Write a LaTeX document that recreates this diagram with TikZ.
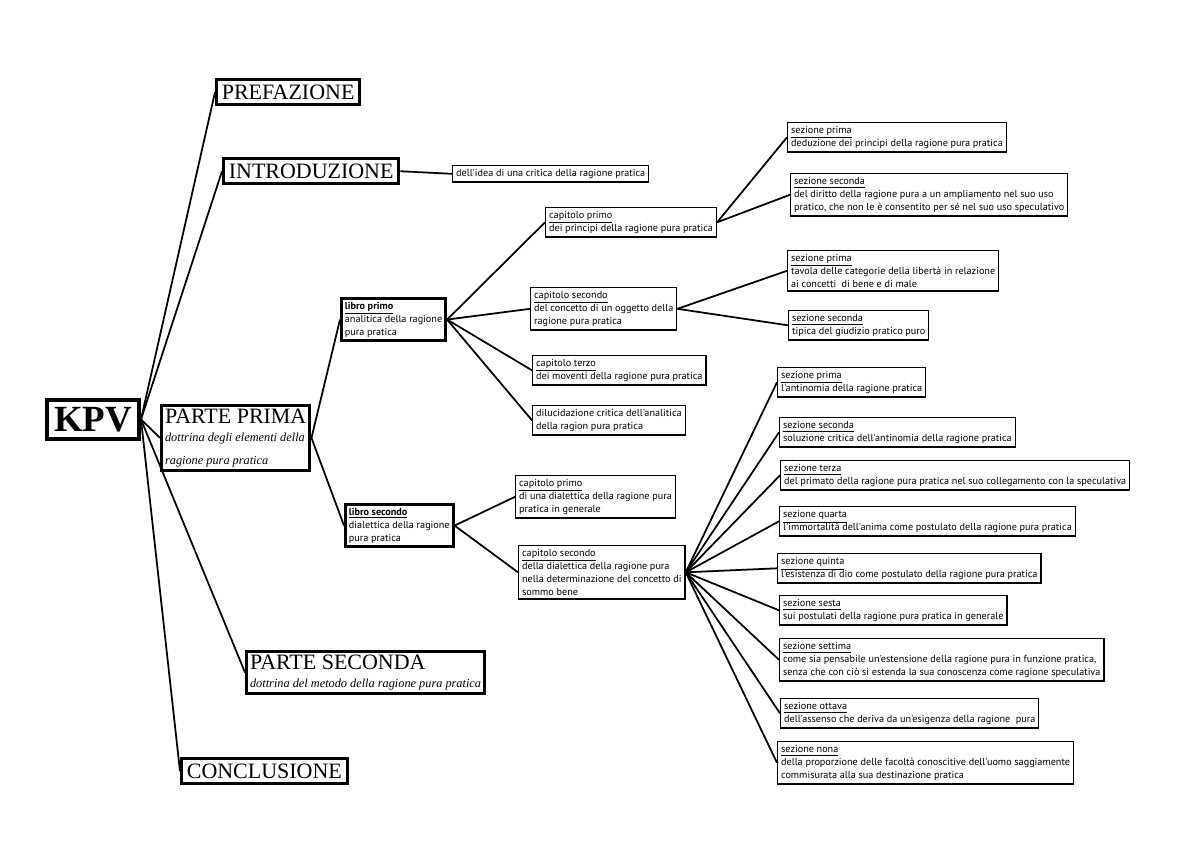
\documentclass[tikz,border=0pt]{standalone}
\usepackage{fontspec}
\setmainfont{Liberation Serif}
\newfontfamily\boxfont{PT Sans}
\usetikzlibrary{positioning}

\tikzset{
  head/.style={draw, line width=1.8pt, anchor=north west, inner sep=3pt, align=left,
    font=\fontsize{12.5}{13}\selectfont},
  libro/.style={draw, line width=1.6pt, anchor=north west, inner sep=2pt, align=left,
    font=\boxfont\fontsize{5.8}{7.4}\selectfont},
  sbox/.style={draw, line width=0.7pt, anchor=north west, inner sep=2pt, align=left,
    font=\boxfont\fontsize{5.8}{7.4}\selectfont},
  link/.style={line width=1pt},
}
\newcommand{\tit}[1]{\underline{#1}}
\newcommand{\subt}{\itshape\fontsize{7}{8.6}\selectfont}

\begin{document}
\begin{tikzpicture}[x=0.02cm,y=-0.02cm]
        \useasboundingbox (0,0) rectangle (1200,849);
        % level 0 and 1
        \node[draw, line width=2.3pt, anchor=north west, inner sep=4pt,
          font=\bfseries\fontsize{21}{22}\selectfont] at (45,398) (kpv) {KPV};
        \node[head] at (215,78) (pref) {PREFAZIONE};
        \node[head] at (222,157) (intro) {INTRODUZIONE};
        \node[head, inner sep=2pt] at (160,404) (pp) {PARTE PRIMA\\[-3pt]
          \subt dottrina degli elementi della\\\subt ragione pura pratica};
        \node[head, inner sep=2pt] at (245,650) (ps) {PARTE SECONDA\\[-3pt]
          \subt dottrina del metodo della ragione pura pratica};
        \node[head] at (180,757) (concl) {CONCLUSIONE};

        \node[sbox] at (452,165) (idea) {dell'idea di una critica della ragione pratica};

        % parte prima
        \node[libro] at (340,297) (lp) {\textbf{\tit{libro primo}}\\analitica della ragione\\pura pratica};
        \node[libro] at (344,503) (ls) {\textbf{\tit{libro secondo}}\\dialettica della ragione\\pura pratica};

        \node[sbox] at (545,207) (lpc1) {\tit{capitolo primo}\\dei principi della ragione pura pratica};
        \node[sbox] at (530,287) (lpc2) {\tit{capitolo secondo}\\del concetto di un oggetto della\\ragione pura pratica};
        \node[sbox] at (532,355) (lpc3) {\tit{capitolo terzo}\\dei moventi della ragione pura pratica};
        \node[sbox] at (532,405) (dil) {dilucidazione critica dell'analitica\\della ragion pura pratica};

        \node[sbox] at (787,122) (c1s1) {\tit{sezione prima}\\deduzione dei principi della ragione pura pratica};
        \node[sbox] at (790,173) (c1s2) {\tit{sezione seconda}\\del diritto della ragione pura a un ampliamento nel suo uso\\pratico, che non le è consentito per sé nel suo uso speculativo};
        \node[sbox] at (787,250) (c2s1) {\tit{sezione prima}\\tavola delle categorie della libertà in relazione\\ai concetti\ \ di bene e di male};
        \node[sbox] at (788,310) (c2s2) {\tit{sezione seconda}\\tipica del giudizio pratico puro};

        \node[sbox] at (515,475) (lsc1) {\tit{capitolo primo}\\di una dialettica della ragione pura\\pratica in generale};
        \node[sbox] at (518,545) (lsc2) {\tit{capitolo secondo}\\della dialettica della ragione pura\\nella determinazione del concetto di\\sommo bene};

        \node[sbox] at (777,367) (s1) {\tit{sezione prima}\\l'antinomia della ragione pratica};
        \node[sbox] at (779,417) (s2) {\tit{sezione seconda}\\soluzione critica dell'antinomia della ragione pratica};
        \node[sbox] at (780,460) (s3) {\tit{sezione terza}\\del primato della ragione pura pratica nel suo collegamento con la speculativa};
        \node[sbox] at (779,506) (s4) {\tit{sezione quarta}\\l'immortalità dell'anima come postulato della ragione pura pratica};
        \node[sbox] at (777,553) (s5) {\tit{sezione quinta}\\l'esistenza di dio come postulato della ragione pura pratica};
        \node[sbox] at (779,595) (s6) {\tit{sezione sesta}\\sui postulati della ragione pura pratica in generale};
        \node[sbox] at (779,638) (s7) {\tit{sezione settima}\\come sia pensabile un'estensione della ragione pura in funzione pratica,\\senza che con ciò si estenda la sua conoscenza come ragione speculativa};
        \node[sbox] at (780,698) (s8) {\tit{sezione ottava}\\dell'assenso che deriva da un'esigenza della ragione\ \ pura};
        \node[sbox] at (777,741) (s9) {\tit{sezione nona}\\della proporzione delle facoltà conoscitive dell'uomo saggiamente\\commisurata alla sua destinazione pratica};

        \foreach \c in {pref,intro,pp,ps,concl}
          \draw[link] (kpv.east) -- (\c.west);
        \draw[link] (intro.east) -- (idea.west);
        \foreach \c in {lp,ls}
          \draw[link] (pp.east) -- (\c.west);
        \foreach \c in {lpc1,lpc2,lpc3,dil}
          \draw[link] (lp.east) -- (\c.west);
        \foreach \c in {c1s1,c1s2}
          \draw[link] (lpc1.east) -- (\c.west);
        \foreach \c in {c2s1,c2s2}
          \draw[link] (lpc2.east) -- (\c.west);
        \foreach \c in {lsc1,lsc2}
          \draw[link] (ls.east) -- (\c.west);
        \foreach \c in {s1,s2,s3,s4,s5,s6,s7,s8,s9}
          \draw[link] (lsc2.east) -- (\c.west);
    \end{tikzpicture}
\end{document}
